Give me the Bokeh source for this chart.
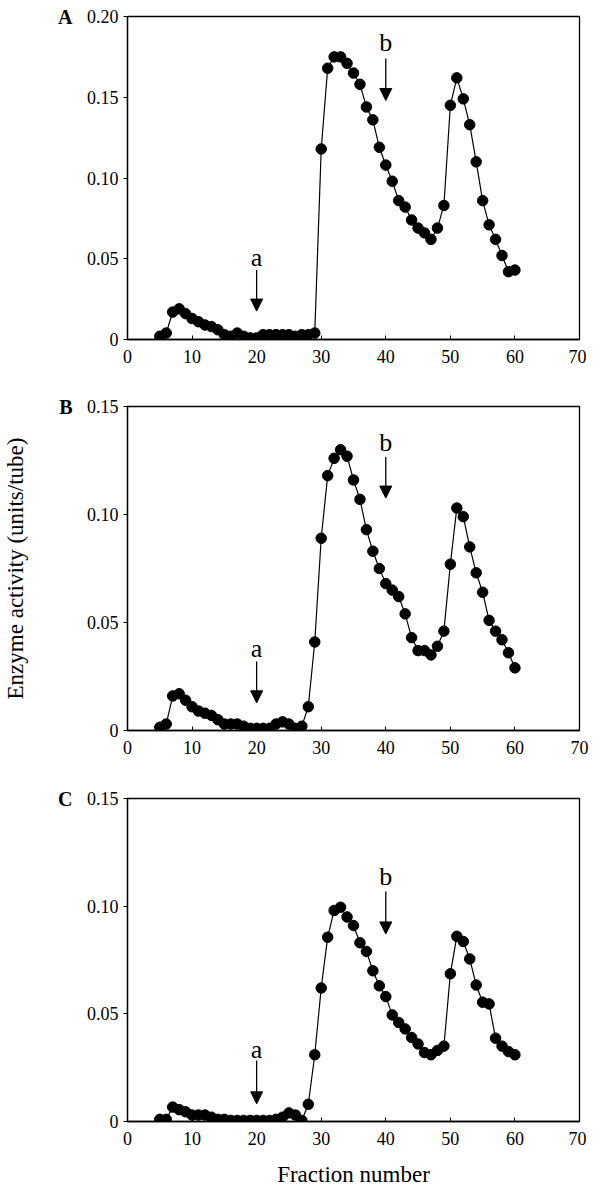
from bokeh.plotting import figure
from bokeh.layouts import column
from bokeh.models import Arrow, NormalHead, Label, Range1d, FixedTicker, LinearAxis
from bokeh.embed import file_html
from bokeh.resources import INLINE

fractions = list(range(5, 61))

activity_a = [0.002, 0.004, 0.017, 0.019, 0.016, 0.013, 0.011, 0.009, 0.008, 0.006,
              0.003, 0.002, 0.004, 0.002, 0.001, 0.001, 0.003, 0.003, 0.003, 0.003,
              0.003, 0.002, 0.003, 0.003, 0.004, 0.118, 0.168, 0.175, 0.175, 0.171,
              0.165, 0.158, 0.144, 0.136, 0.119, 0.108, 0.098, 0.086, 0.082, 0.074,
              0.069, 0.066, 0.062, 0.069, 0.083, 0.145, 0.162, 0.149, 0.133, 0.110,
              0.086, 0.071, 0.062, 0.052, 0.042, 0.043]

activity_b = [0.0015, 0.003, 0.016, 0.017, 0.014, 0.011, 0.009, 0.008, 0.007, 0.005,
              0.003, 0.003, 0.003, 0.002, 0.001, 0.001, 0.001, 0.001, 0.003, 0.004,
              0.003, 0.001, 0.002, 0.011, 0.041, 0.089, 0.118, 0.126, 0.130, 0.127,
              0.116, 0.107, 0.093, 0.083, 0.075, 0.068, 0.065, 0.062, 0.054, 0.043,
              0.037, 0.037, 0.035, 0.039, 0.046, 0.077, 0.103, 0.099, 0.085, 0.073,
              0.064, 0.051, 0.046, 0.042, 0.036, 0.029]

activity_c = [0.001, 0.001, 0.0067, 0.0055, 0.0045, 0.003, 0.003, 0.003, 0.002, 0.001,
              0.001, 0.0005, 0.0005, 0.0005, 0.0005, 0.0005, 0.0005, 0.0005, 0.001, 0.002,
              0.004, 0.003, 0.0005, 0.008, 0.031, 0.062, 0.0856, 0.098, 0.0995, 0.095,
              0.091, 0.083, 0.079, 0.070, 0.063, 0.058, 0.0495, 0.046, 0.043, 0.039,
              0.036, 0.032, 0.031, 0.033, 0.035, 0.0686, 0.086, 0.0836, 0.0755, 0.0634,
              0.0554, 0.0546, 0.0387, 0.035, 0.0325, 0.031]

x_ticks = [0, 10, 20, 30, 40, 50, 60, 70]
y_ticks_a = [0, 0.05, 0.10, 0.15, 0.20]
y_ticks_bc = [0, 0.05, 0.10, 0.15]
y_tick_labels = {0: "0", 0.05: "0.05", 0.1: "0.10", 0.15: "0.15", 0.2: "0.20"}

FONT = "Liberation Serif"


def make_panel(values, yticks, ymax, letter, arrow_a, arrow_b,
               border_top, frame_h, border_bottom, ylabel=None, xlabel=None):
    p = figure(width=586, height=border_top + frame_h + border_bottom,
               frame_width=452, frame_height=frame_h,
               min_border_left=123, min_border_right=11,
               min_border_top=border_top, min_border_bottom=border_bottom,
               x_range=Range1d(0, 70), y_range=Range1d(0, ymax),
               output_backend="svg", toolbar_location=None)
    p.background_fill_color = "white"
    p.border_fill_color = "white"
    p.grid.visible = False
    p.outline_line_color = "black"
    p.outline_line_width = 1.3

    p.xaxis.ticker = FixedTicker(ticks=x_ticks)
    p.yaxis.ticker = FixedTicker(ticks=yticks)
    p.yaxis.major_label_overrides = {t: y_tick_labels[round(t, 2)] for t in yticks}
    p.xaxis.minor_tick_line_color = None
    p.yaxis.minor_tick_line_color = None
    p.xaxis.major_tick_in = 4
    p.xaxis.major_tick_out = 0
    p.yaxis.major_tick_in = 0
    p.yaxis.major_tick_out = 4
    p.xaxis.major_label_standoff = 10
    p.yaxis.major_label_standoff = 5
    for ax in (p.xaxis, p.yaxis):
        ax.axis_line_color = "black"
        ax.axis_line_width = 1.3
        ax.major_tick_line_color = "black"
        ax.major_label_text_font = FONT
        ax.major_label_text_font_size = "18px"
        ax.major_label_text_color = "black"
        ax.axis_label_text_font = FONT
        ax.axis_label_text_font_size = "23px"
        ax.axis_label_text_font_style = "normal"
        ax.axis_label_text_color = "black"
    if xlabel:
        p.xaxis.axis_label = xlabel
        p.xaxis.axis_label_standoff = 14

    # outer left axis carrying the panel letter (and the shared y label)
    letter_axis = LinearAxis(ticker=FixedTicker(ticks=[ymax]),
                             major_label_overrides={ymax: letter})
    letter_axis.axis_line_color = None
    letter_axis.major_tick_line_color = None
    letter_axis.minor_tick_line_color = None
    letter_axis.major_tick_in = 0
    letter_axis.major_tick_out = 0
    letter_axis.major_label_standoff = 11
    letter_axis.major_label_text_font = FONT
    letter_axis.major_label_text_font_size = "20px"
    letter_axis.major_label_text_font_style = "bold"
    letter_axis.major_label_text_color = "black"
    if ylabel:
        letter_axis.axis_label = ylabel
        letter_axis.axis_label_standoff = 28
        letter_axis.axis_label_text_font = FONT
        letter_axis.axis_label_text_font_size = "23px"
        letter_axis.axis_label_text_font_style = "normal"
        letter_axis.axis_label_text_color = "black"
    p.add_layout(letter_axis, "left")

    p.line(fractions, values, line_color="black", line_width=1.2)
    p.scatter(fractions, values, size=10.5, fill_color="black", line_color="black")

    for (ax_x, text_y, y0, y1, txt) in (arrow_a + ("a",), arrow_b + ("b",)):
        p.add_layout(Arrow(end=NormalHead(size=12, fill_color="black", line_color="black"),
                           x_start=ax_x, y_start=y0, x_end=ax_x, y_end=y1,
                           line_color="black", line_width=1.3))
        p.add_layout(Label(x=ax_x, y=text_y, text=txt, text_align="center",
                           text_baseline="middle", text_font=FONT,
                           text_font_size="26px", text_color="black"))
    return p


pa = make_panel(activity_a, y_ticks_a, 0.20, "A",
                (20, 0.051, 0.043, 0.0176), (40, 0.184, 0.174, 0.148),
                16, 323, 51)
pb = make_panel(activity_b, y_ticks_bc, 0.15, "B",
                (20, 0.038, 0.032, 0.0128), (40, 0.1335, 0.1266, 0.1076),
                16, 324, 50, ylabel="Enzyme activity (units/tube)")
pc = make_panel(activity_c, y_ticks_bc, 0.15, "C",
                (20, 0.0335, 0.0283, 0.0082), (40, 0.114, 0.1068, 0.0871),
                18, 323, 68, xlabel="Fraction number")

layout = column(pa, pb, pc, spacing=0)
open("out.html", "w").write(file_html(layout, INLINE))
